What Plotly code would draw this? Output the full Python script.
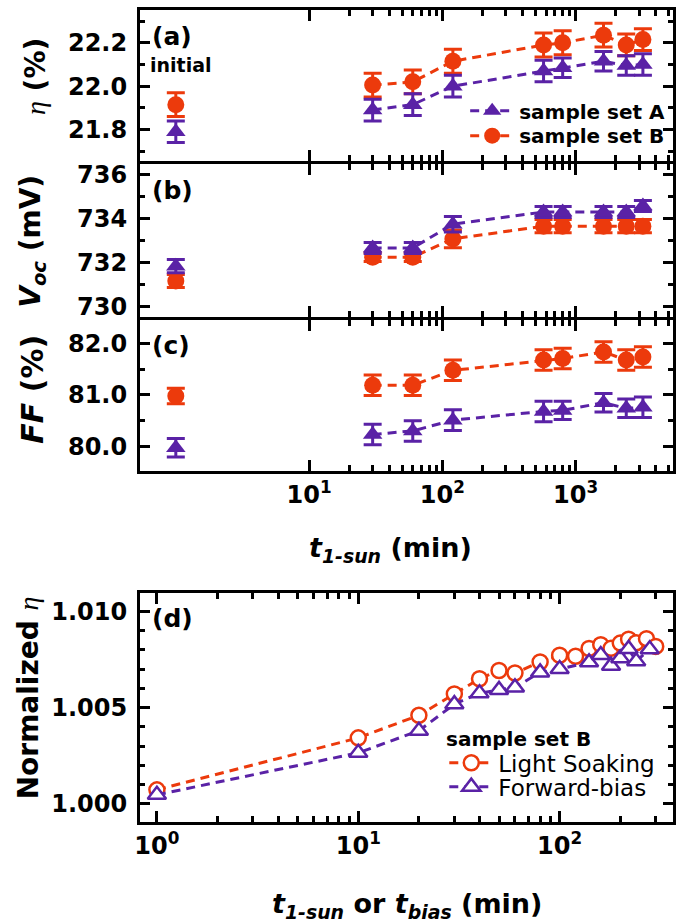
import plotly.graph_objects as go

# ---------------- data ----------------
# Panels (a)-(c): light-soaking time (min); the "initial" state is placed at t = 1
t_soak = [1, 30, 60, 120, 575, 800, 1620, 2400, 3200]

eta_A = [21.79, 21.89, 21.915, 22.00, 22.07, 22.085, 22.115, 22.095, 22.10]
eta_A_err = [0.05, 0.05, 0.05, 0.05, 0.05, 0.045, 0.045, 0.045, 0.05]
eta_B = [21.915, 22.005, 22.02, 22.115, 22.19, 22.20, 22.235, 22.19, 22.215]
eta_B_err = [0.055, 0.055, 0.055, 0.055, 0.055, 0.055, 0.055, 0.05, 0.05]

voc_A = [731.84, 732.67, 732.67, 733.75, 734.30, 734.30, 734.30, 734.30, 734.58]
voc_A_err = [0.3, 0.25, 0.25, 0.35, 0.25, 0.25, 0.25, 0.25, 0.25]
voc_B = [731.17, 732.25, 732.25, 733.08, 733.66, 733.66, 733.66, 733.66, 733.66]
voc_B_err = [0.3, 0.2, 0.2, 0.4, 0.3, 0.3, 0.3, 0.3, 0.3]

ff_A = [79.97, 80.23, 80.30, 80.51, 80.68, 80.70, 80.85, 80.74, 80.76]
ff_A_err = [0.18, 0.2, 0.2, 0.2, 0.2, 0.18, 0.18, 0.18, 0.2]
ff_B = [80.98, 81.19, 81.19, 81.48, 81.68, 81.71, 81.84, 81.68, 81.74]
ff_B_err = [0.15, 0.2, 0.2, 0.2, 0.2, 0.2, 0.2, 0.2, 0.2]

# Panel (d): normalized efficiency, sample set B
t_ls = [1, 10, 20, 30, 40, 50, 60, 80, 100, 120, 140, 160, 180, 200, 220, 240, 270, 300]
eta_ls = [1.00073, 1.00343, 1.00460, 1.00571, 1.00650, 1.00693, 1.00680, 1.00737,
          1.00772, 1.00767, 1.00807, 1.00827, 1.00808, 1.00835, 1.00855, 1.00837,
          1.00858, 1.00818]
t_fb = [1, 10, 20, 30, 40, 50, 60, 80, 100, 140, 160, 180, 200, 220, 240, 280]
eta_fb = [1.00047, 1.00265, 1.00380, 1.00518, 1.00575, 1.00592, 1.00605, 1.00683,
          1.00700, 1.00735, 1.00773, 1.00718, 1.00756, 1.00805, 1.00741, 1.00803]

# ---------------- styling ----------------
ORANGE = "#EC3A0C"
PURPLE = "#5A22A6"
FONT = "DejaVu Sans, sans-serif"
W, H = 676, 923
ML = 140          # left edge of the plotting area (px)
LW = 3            # frame line width

fig = go.Figure()


def add_pair(xa, ya, y, err, color, symbol, name, legend_key):
    # initial state: marker only
    fig.add_trace(go.Scatter(
        x=t_soak[:1], y=y[:1], xaxis=xa, yaxis=ya, mode="markers",
        marker=dict(color=color, size=17, symbol=symbol),
        error_y=dict(type="data", array=err[:1], color=color, thickness=3, width=9),
        showlegend=False, hoverinfo="skip"))
    # treated states: dashed line + markers
    fig.add_trace(go.Scatter(
        x=t_soak[1:], y=y[1:], xaxis=xa, yaxis=ya, mode="lines+markers",
        line=dict(color=color, width=3, dash="9px,6px"),
        marker=dict(color=color, size=17, symbol=symbol),
        error_y=dict(type="data", array=err[1:], color=color, thickness=3, width=9),
        name=name, legendgroup=name, showlegend=legend_key is not None,
        legend=legend_key or "legend"))


add_pair("x", "y", eta_B, eta_B_err, ORANGE, "circle", "sample set B", "legend2")
add_pair("x", "y", eta_A, eta_A_err, PURPLE, "triangle-up", "sample set A", "legend")
add_pair("x2", "y2", voc_B, voc_B_err, ORANGE, "circle", "sample set B", None)
add_pair("x2", "y2", voc_A, voc_A_err, PURPLE, "triangle-up", "sample set A", None)
add_pair("x3", "y3", ff_B, ff_B_err, ORANGE, "circle", "sample set B", None)
add_pair("x3", "y3", ff_A, ff_A_err, PURPLE, "triangle-up", "sample set A", None)

fig.add_trace(go.Scatter(
    x=t_ls, y=eta_ls, xaxis="x4", yaxis="y4", mode="lines+markers",
    line=dict(color=ORANGE, width=3, dash="9px,6px"),
    marker=dict(color="white", size=15, symbol="circle",
                line=dict(color=ORANGE, width=2.5)),
    name="Light Soaking", legend="legend3"))
fig.add_trace(go.Scatter(
    x=t_fb, y=eta_fb, xaxis="x4", yaxis="y4", mode="lines+markers",
    line=dict(color=PURPLE, width=3, dash="9px,6px"),
    marker=dict(color="white", size=16, symbol="triangle-up",
                line=dict(color=PURPLE, width=2.5)),
    name="Forward-bias", legend="legend4"))


def py(px):
    return 1 - px / H


def px_x(px):
    return (px - ML) / (W - ML)


def dom(top_line, bottom_line):
    # frame lines are drawn outside the domain, so inset by half a line width
    return [py(bottom_line - LW / 2), py(top_line + LW / 2)]


AX = dict(showline=True, linecolor="black", linewidth=LW, ticks="inside",
          tickcolor="black", tickwidth=2.5, showgrid=False, zeroline=False,
          tickfont=dict(family=FONT, size=24, color="black", weight="bold"))
YX = dict(ticklabelstandoff=5)


def minor(vals, ln):
    return dict(tickvals=vals, ticklen=ln, tickwidth=2.5, tickcolor="black",
                ticks="inside", showgrid=False)


def leg(x, top, size, bold):
    return dict(x=px_x(x), y=py(top), xanchor="left", yanchor="top",
                bgcolor="rgba(0,0,0,0)", itemwidth=44,
                font=dict(family=FONT, size=size, color="black",
                          weight="bold" if bold else "normal"))


minor_top = [20, 30, 40, 50, 60, 70, 80, 90, 200, 300, 400, 500, 600, 700, 800, 900,
             2000, 3000, 4000, 5000]
xk = dict(AX, type="log", range=[-0.2687, 3.731], tickvals=[10, 100, 1000],
          ticktext=["10<sup>1</sup>", "10<sup>2</sup>", "10<sup>3</sup>"],
          ticklen=11, mirror="allticks", minor=minor(minor_top, 6))

layout = dict(
    width=W, height=H, margin=dict(l=ML, r=0, t=0, b=0),
    paper_bgcolor="white", plot_bgcolor="white",
    xaxis=dict(xk, anchor="y", showticklabels=False),
    xaxis2=dict(xk, anchor="y2", showticklabels=False),
    xaxis3=dict(xk, anchor="y3", showticklabels=True),
    yaxis=dict(AX, **YX, domain=dom(6, 161), range=[21.654, 22.349],
               tickvals=[21.8, 22.0, 22.2], ticktext=["21.8", "22.0", "22.2"],
               ticklen=10, mirror="ticks", anchor="x",
               minor=minor([21.7, 21.9, 22.1, 22.3], 5)),
    yaxis2=dict(AX, **YX, domain=dom(161, 318), range=[729.53, 736.47],
                tickvals=[730, 732, 734, 736], ticklen=10, mirror="ticks", anchor="x2",
                minor=minor([731, 733, 735], 5)),
    yaxis3=dict(AX, **YX, domain=dom(318, 473), range=[79.52, 82.46],
                tickvals=[80, 81, 82], ticktext=["80.0", "81.0", "82.0"],
                ticklen=10, mirror="ticks", anchor="x3",
                minor=minor([80.5, 81.5], 5)),
    xaxis4=dict(AX, type="log", range=[-0.084, 2.563], anchor="y4",
                tickvals=[1, 10, 100],
                ticktext=["10<sup>0</sup>", "10<sup>1</sup>", "10<sup>2</sup>"],
                ticklen=11, mirror="allticks",
                minor=minor([2, 3, 4, 5, 6, 7, 8, 9, 20, 30, 40, 50, 60, 70, 80, 90,
                             200, 300], 6)),
    yaxis4=dict(AX, **YX, domain=dom(593, 827), range=[0.999046, 1.010954],
                tickvals=[1.000, 1.005, 1.010], ticktext=["1.000", "1.005", "1.010"],
                ticklen=10, mirror="ticks", anchor="x4",
                minor=minor([1.001, 1.002, 1.003, 1.004, 1.006, 1.007, 1.008, 1.009], 5)),
    legend=leg(467, 89, 20, True),
    legend2=leg(467, 114, 20, True),
    legend3=leg(446, 744, 23, False),
    legend4=leg(446, 768, 23, False),
    showlegend=True,
)
fig.update_layout(**layout)


def ann(text, x, y, size=22, angle=0, xanchor="center", yanchor="middle", bold=True):
    fig.add_annotation(text=text, x=px_x(x), y=py(y), xref="paper",
                       yref="paper", showarrow=False, textangle=angle,
                       xanchor=xanchor, yanchor=yanchor,
                       font=dict(family=FONT, size=size, color="black",
                                 weight="bold" if bold else "normal"))


ETA = ("<span style='font-family:Liberation Serif;font-weight:normal'>"
       "<i>η</i></span>")
ann("(a)", 150, 34, size=25, xanchor="left")
ann("initial", 148, 62, size=19, xanchor="left")
ann("(b)", 150, 189, size=25, xanchor="left")
ann("(c)", 150, 345, size=25, xanchor="left")
ann("(d)", 150, 620, size=25, xanchor="left")
ann("sample set B", 446, 742, size=20, xanchor="left")

ann(ETA + " (%)", 35, 74, size=28, angle=-90)
ann("<i>V<sub>oc</sub></i> (mV)", 32, 240, size=28, angle=-90)
ann("<i>FF</i> (%)", 31, 389, size=30, angle=-90)
ann("Normalized " + ETA, 28, 700, size=28, angle=-90)

ann("<i>t<sub>1-sun</sub></i> (min)", 392, 551, size=27)
ann("<i>t<sub>1-sun</sub></i> or <i>t<sub>bias</sub></i> (min)", 408, 909, size=27)

fig.write_html("out.html")
